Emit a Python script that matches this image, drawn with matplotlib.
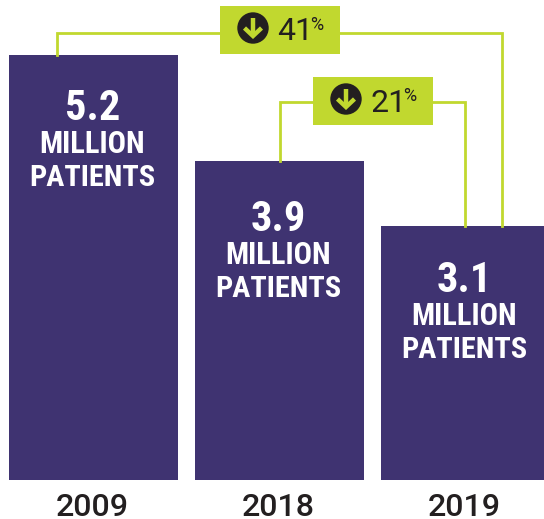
import os
import matplotlib
matplotlib.use('Agg')
import matplotlib.pyplot as plt
from matplotlib import font_manager as fm
from matplotlib.patches import Circle, Rectangle

years = ['2009', '2018', '2019']
patients = [5.2, 3.9, 3.1]
unit_label = ['MILLION', 'PATIENTS']
drops = ['41', '21']

PURPLE = '#3f3371'
GREEN = '#c1d82f'
DARK = '#231f20'

COND = '/usr/share/fonts/truetype/roboto/unhinted/RobotoCondensed-Bold.ttf'
def cond(size):
    if os.path.exists(COND):
        return fm.FontProperties(fname=COND, size=size)
    return fm.FontProperties(family='Roboto', weight='bold', size=size * 0.8)

fig = plt.figure(figsize=(5.44, 5.19), dpi=100)
ax = fig.add_axes([0, 0, 1, 1])
step = 186.0
px_per_val = 81.8
ax.set_xlim(-93.5 / step, (544 - 93.5) / step)
ax.set_ylim(-39 / px_per_val, 480 / px_per_val)
ax.axis('off')
ax.bar(range(3), patients, width=169 / step, color=PURPLE, zorder=2)

ov = fig.add_axes([0, 0, 1, 1])
ov.set_xlim(0, 544)
ov.set_ylim(519, 0)
ov.axis('off')
ov.patch.set_alpha(0)

def bracket(x0, x1, y, y0, y1, bx, by):
    ov.plot([x0, x0, x1, x1], [y0, y, y, y1], color=GREEN, lw=2.0, solid_joinstyle='miter', zorder=1)
    ov.add_patch(Rectangle((bx, by), 120, 47.5, color=GREEN, lw=0, zorder=2))

def badge(bx, by, label):
    cx, cy = bx + 33, by + 22
    ov.add_patch(Circle((cx, cy), 15.7, color=DARK, lw=0, zorder=3))
    ov.plot([cx, cx], [cy - 10, cy + 8], color=GREEN, lw=3.2, zorder=4, solid_capstyle='butt')
    ov.plot([cx - 8.5, cx, cx + 8.5], [cy, cy + 8, cy], color=GREEN, lw=3.2, zorder=4,
            solid_joinstyle='miter', solid_capstyle='butt')
    ov.text(bx + 57, by + 34.5, label, family='Roboto', fontsize=23, color=DARK, va='baseline', ha='left', zorder=4)
    ov.text(bx + 90, by + 24, '%', family='Roboto', fontsize=13, color=DARK, va='baseline', ha='left', zorder=4)

bracket(57, 502, 33, 55, 226, 220, 6)
bracket(280, 465, 102, 161, 226, 313, 77)
badge(220, 6, drops[0])
badge(313, 77, drops[1])

label_base = [120, 231, 292]
for i, (yr, v) in enumerate(zip(years, patients)):
    xc = 93.5 + i * step
    b = label_base[i]
    ov.text(xc - 1, b, f'{v:.1f}', fontproperties=cond(30.5), color='white', ha='center', va='baseline', zorder=3)
    ov.text(xc - 1, b + 33, unit_label[0], fontproperties=cond(22), color='white', ha='center', va='baseline', zorder=3)
    ov.text(xc - 1, b + 66, unit_label[1], fontproperties=cond(21.8), color='white', ha='center', va='baseline', zorder=3)
    ov.text(xc - 1, 516.5, yr, family='Roboto', weight='medium', fontsize=23.2, color=DARK, ha='center', va='baseline')

fig.savefig('out.png', dpi=100)
